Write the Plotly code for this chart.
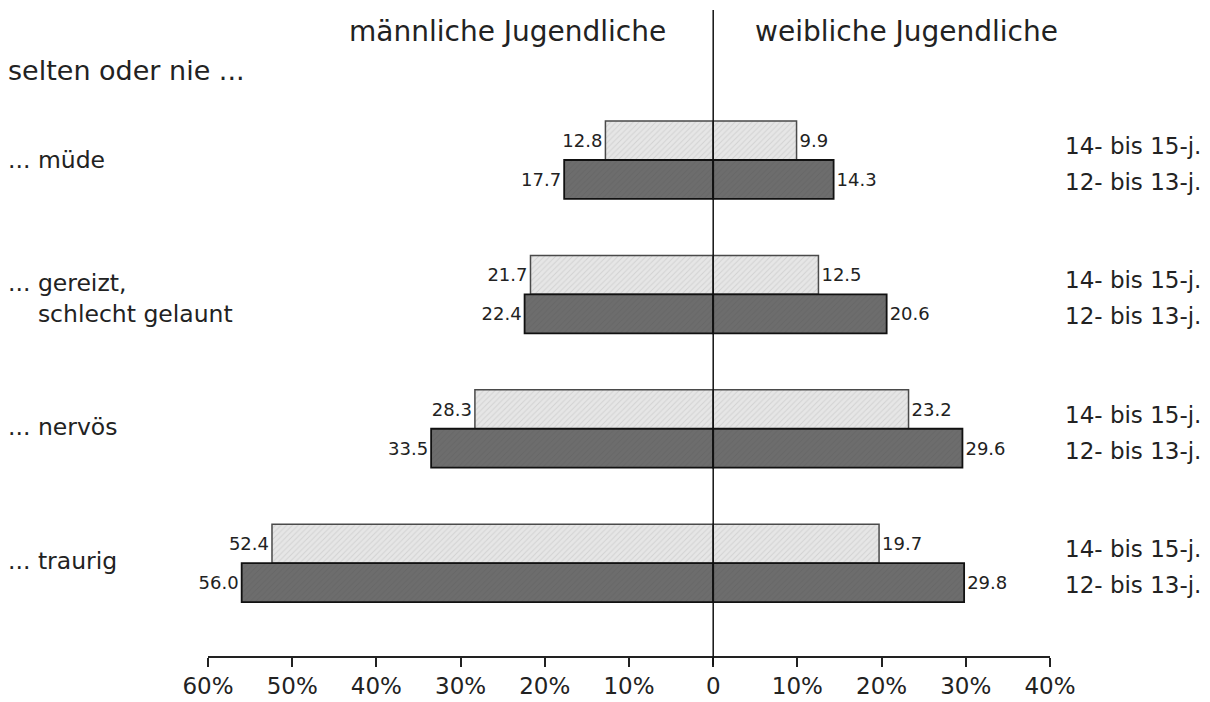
import plotly.graph_objects as go

categories = ["... müde", "... gereizt,<br>    schlecht gelaunt", "... nervös", "... traurig"]
male_14_15 = [12.8, 21.7, 28.3, 52.4]
male_12_13 = [17.7, 22.4, 33.5, 56.0]
female_14_15 = [9.9, 12.5, 23.2, 19.7]
female_12_13 = [14.3, 20.6, 29.6, 29.8]
age_labels = ["14- bis 15-j.", "12- bis 13-j."]
tick_vals = [-60, -50, -40, -30, -20, -10, 0, 10, 20, 30, 40]
tick_text = ["60%", "50%", "40%", "30%", "20%", "10%", "0", "10%", "20%", "30%", "40%"]

FONT = "DejaVu Sans, Liberation Sans, Arial, sans-serif"
W, H = 1210, 702
OFF = 8  # page body offset
ML, MR, MT, MB = 200, 168, 2, 54
PW, PH = W - ML - MR, H - MT - MB

def px_x(px):
    return (px - OFF - ML) / PW

def px_y(py):
    return (H - MB - (py - OFF)) / PH

off = 0.145
bw = 0.29
idx = list(range(len(categories)))
y_light = [i - off for i in idx]
y_dark = [i + off for i in idx]

light_style = dict(color="#e4e4e4",
                   line=dict(color="#4a4a4a", width=1.5),
                   pattern=dict(shape="/", fgcolor="#bcbcbc", bgcolor="#e6e6e6", size=4, solidity=0.25))
dark_style = dict(color="#6b6b6b",
                  line=dict(color="#111111", width=1.8),
                  pattern=dict(shape="/", fgcolor="#606060", bgcolor="#6d6d6d", size=4, solidity=0.25))

fig = go.Figure()

def add(vals, ys, style, sign):
    fig.add_trace(go.Bar(
        x=[sign * v for v in vals], y=ys, orientation="h", width=bw,
        marker=style, text=[f"{v:.1f}" for v in vals], textposition="outside",
        textfont=dict(family=FONT, size=18, color="#222222"),
        cliponaxis=False, showlegend=False, hoverinfo="skip"))

add(male_14_15, y_light, light_style, -1)
add(female_14_15, y_light, light_style, 1)
add(male_12_13, y_dark, dark_style, -1)
add(female_12_13, y_dark, dark_style, 1)

fig.update_layout(
    width=W, height=H, margin=dict(l=ML, r=MR, t=MT, b=MB),
    plot_bgcolor="white", paper_bgcolor="white", barmode="overlay",
    font=dict(family=FONT, color="#222222"),
    xaxis=dict(range=[-60, 40], tickvals=tick_vals, ticktext=tick_text,
               showgrid=False, zeroline=False, showline=True, linecolor="#222222", linewidth=1.5,
               ticks="outside", ticklen=9, tickwidth=1.5, tickcolor="#222222",
               tickfont=dict(family=FONT, size=23, color="#222222"), fixedrange=True),
    yaxis=dict(range=[3.691, -1.116], showgrid=False, zeroline=False, showline=False,
               showticklabels=False, ticks="", fixedrange=True),
)

# zero line
fig.add_shape(type="line", xref="x", yref="paper", x0=0, x1=0, y0=-9 / PH, y1=1.0,
              line=dict(color="#111111", width=1.5))

ann = []
ann.append(dict(text="männliche Jugendliche", x=px_x(507), y=px_y(31), xanchor="center", yanchor="middle",
                font=dict(size=28)))
ann.append(dict(text="weibliche Jugendliche", x=px_x(906), y=px_y(31), xanchor="center", yanchor="middle",
                font=dict(size=28)))
ann.append(dict(text="selten oder nie ...", x=px_x(6), y=px_y(71), xanchor="left", yanchor="middle",
                font=dict(size=27)))
group_label_y = [160, 299, 427, 561]
for i, cat in enumerate(categories):
    ann.append(dict(text=cat, x=px_x(6), y=px_y(group_label_y[i]), xanchor="left", yanchor="middle",
                    align="left", font=dict(size=23.5)))
    c = 160 + 134.4 * i
    ann.append(dict(text=age_labels[0], x=px_x(1063), y=px_y(c - 14), xanchor="left", yanchor="middle",
                    font=dict(size=23)))
    ann.append(dict(text=age_labels[1], x=px_x(1063), y=px_y(c + 22), xanchor="left", yanchor="middle",
                    font=dict(size=23)))

for a in ann:
    a.update(xref="paper", yref="paper", showarrow=False)
    a["font"] = dict(family=FONT, color="#222222", size=a["font"]["size"])
fig.update_layout(annotations=ann)

fig.write_html("out.html")
